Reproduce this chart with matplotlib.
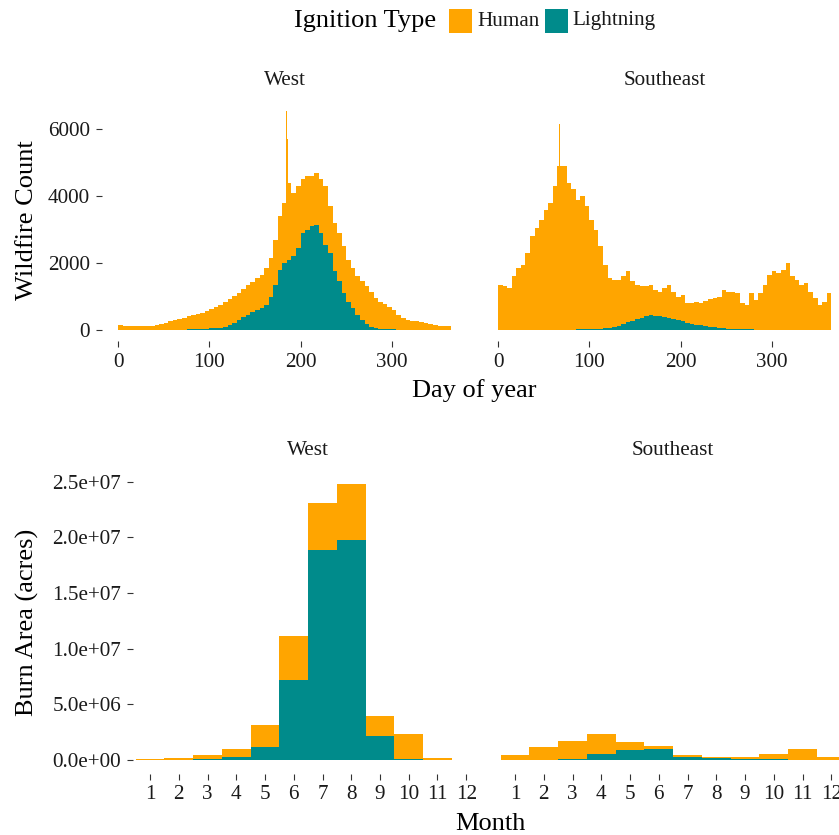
import numpy as np
import matplotlib
matplotlib.use('Agg')
import matplotlib.pyplot as plt
from matplotlib.patches import Rectangle

plt.rcParams['font.family'] = ['Liberation Serif', 'DejaVu Serif']

HUMAN_COLOR = '#FFA500'
LIGHTNING_COLOR = '#008B8B'
TEXT_COLOR = '#1a1a1a'

# ---------------- data: daily wildfire counts (read in 5-day bins) ----------------
bin_width = 5
west_all = [140, 130, 130, 120, 110, 110, 115, 125, 150, 180,
            220, 260, 290, 330, 370, 410, 440, 480, 520, 570,
            620, 690, 760, 840, 930, 1020, 1110, 1220, 1340, 1440,
            1540, 1640, 1850, 2150, 2700, 3400, 3800, 4400, 4100, 4300,
            4500, 4600, 4600, 4700, 4500, 4300, 3700, 3200, 2900, 2500,
            2100, 1850, 1600, 1450, 1300, 1150, 950, 850, 770, 680,
            590, 450, 350, 300, 280, 260, 240, 210, 170, 140,
            120, 120, 120]
west_lightning = [0, 0, 0, 0, 0, 0, 2, 2, 3, 4,
                  5, 6, 8, 10, 12, 15, 18, 22, 28, 35,
                  45, 55, 70, 90, 150, 220, 300, 380, 460, 540,
                  600, 650, 750, 1000, 1350, 1800, 2000, 2100, 2200, 2450,
                  2900, 3000, 3100, 3150, 2900, 2550, 2300, 1750, 1450, 1100,
                  850, 650, 450, 300, 180, 100, 60, 40, 30, 20,
                  15, 12, 10, 8, 6, 5, 4, 3, 3, 2,
                  2, 2, 2]
se_all = [1350, 1300, 1250, 1600, 1850, 1950, 2300, 2800, 3050, 3300,
          3600, 3800, 4300, 4900, 4900, 4400, 4200, 3900, 4000, 3700,
          3300, 3000, 2500, 1950, 1550, 1500, 1500, 1600, 1750, 1450,
          1350, 1300, 1300, 1350, 1200, 1150, 1250, 1350, 1150, 1000,
          1050, 800, 800, 830, 800, 880, 920, 950, 1000, 1200,
          1150, 1150, 1100, 800, 750, 1100, 900, 1100, 1350, 1650,
          1750, 1700, 1800, 2000, 1600, 1500, 1350, 1400, 1150, 950,
          750, 850, 1100]
se_lightning = [5, 5, 5, 5, 5, 5, 5, 6, 6, 6,
                7, 7, 8, 8, 9, 10, 12, 15, 18, 20,
                25, 30, 40, 50, 60, 90, 130, 170, 230, 280,
                330, 370, 420, 450, 430, 420, 400, 360, 330, 300,
                260, 220, 190, 160, 140, 120, 100, 80, 60, 50,
                40, 30, 25, 20, 18, 15, 12, 10, 10, 8,
                8, 6, 6, 5, 5, 5, 5, 5, 5, 5,
                5, 5, 5]
# single-day peaks (human-caused)
west_peak_days = [184, 185]
west_peak_counts = [6550, 5700]
se_peak_days = [67]
se_peak_counts = [6150]

# ---------------- data: monthly burn area (acres) ----------------
months = list(range(1, 13))
west_area_human = [0.10e6, 0.17e6, 0.37e6, 0.72e6, 2.03e6, 3.94e6,
                   4.23e6, 5.03e6, 1.79e6, 2.25e6, 0.18e6, 0.03e6]
west_area_lightning = [0.0, 0.01e6, 0.05e6, 0.24e6, 1.14e6, 7.20e6,
                       18.87e6, 19.77e6, 2.16e6, 0.06e6, 0.02e6, 0.0]
se_area_human = [0.40e6, 1.10e6, 1.68e6, 1.73e6, 0.71e6, 0.27e6,
                 0.18e6, 0.12e6, 0.17e6, 0.44e6, 0.99e6, 0.26e6]
se_area_lightning = [0.01e6, 0.03e6, 0.05e6, 0.57e6, 0.93e6, 0.99e6,
                     0.30e6, 0.18e6, 0.10e6, 0.06e6, 0.02e6, 0.01e6]

day_ticks = [0, 100, 200, 300]
count_ticks = [0, 2000, 4000, 6000]
area_ticks = [0, 5e6, 1e7, 1.5e7, 2e7, 2.5e7]

# ---------------- figure ----------------
W, H = 839, 835
fig = plt.figure(figsize=(W / 100, H / 100), dpi=100)
fig.patch.set_facecolor('white')


def px_axes(left, top, width, height):
    return fig.add_axes([left / W, 1 - (top + height) / H, width / W, height / H])


def style(ax, show_y=True):
    for s in ax.spines.values():
        s.set_visible(False)
    ax.tick_params(axis='both', length=4.3, width=0.8, color='#333333',
                   labelsize=15.2, labelcolor=TEXT_COLOR, pad=4)
    if not show_y:
        ax.tick_params(axis='y', left=False, labelleft=False)
    ax.set_facecolor('white')


def strip(ax, text):
    ax.text(0.5, 1 + 19.5 / ax.bbox.height, text, transform=ax.transAxes,
            ha='center', va='center', fontsize=15.2, color=TEXT_COLOR)


edges = np.arange(0, 365 + bin_width, bin_width)

top_specs = [("West", 101.6, west_all, west_lightning, west_peak_days, west_peak_counts, True),
             ("Southeast", 481.6, se_all, se_lightning, se_peak_days, se_peak_counts, False)]
for name, left, allc, light, pdays, pcounts, showy in top_specs:
    ax = px_axes(left, 100.2, 366.1, 240.8)
    allc = np.array(allc, float)
    light = np.array(light, float)
    human = allc - light
    ax.stairs(light + human, edges, baseline=0, fill=True, color=HUMAN_COLOR, linewidth=0)
    ax.bar(pdays, pcounts, width=1, align='edge', color=HUMAN_COLOR, linewidth=0)
    ax.stairs(light, edges, baseline=0, fill=True, color=LIGHTNING_COLOR, linewidth=0)
    ax.set_xlim(-18, 383)
    ax.set_ylim(-330, 6870)
    ax.set_xticks(day_ticks)
    ax.set_yticks(count_ticks)
    style(ax, showy)
    strip(ax, name)

bottom_specs = [("West", 132.75, west_area_human, west_area_lightning, True),
                ("Southeast", 497.75, se_area_human, se_area_lightning, False)]
for name, left, hum, light, showy in bottom_specs:
    ax = px_axes(left, 470.2, 350.75, 303.6)
    ax.bar(months, light, width=1.0, color=LIGHTNING_COLOR, linewidth=0)
    ax.bar(months, hum, bottom=light, width=1.0, color=HUMAN_COLOR, linewidth=0)
    ax.set_xlim(0.4, 12.6)
    ax.set_ylim(-1.24e6, 2.604e7)
    ax.set_xticks(months)
    ax.set_xticklabels([str(m) for m in months])
    ax.set_yticks(area_ticks)
    ax.set_yticklabels(['%.1e' % v for v in area_ticks])
    style(ax, showy)
    strip(ax, name)

# axis titles
fig.text(27 / W, 1 - 220.6 / H, 'Wildfire Count', rotation=90, ha='center', va='center',
         fontsize=19, color='black')
fig.text(474.6 / W, 1 - 397.3 / H, 'Day of year', ha='center', va='baseline',
         fontsize=19, color='black')
fig.text(27 / W, 1 - 622 / H, 'Burn Area (acres)', rotation=90, ha='center', va='center',
         fontsize=19, color='black')
fig.text(490.6 / W, 1 - 830 / H, 'Month', ha='center', va='baseline',
         fontsize=19, color='black')

# legend (manual, horizontal like ggplot's top legend)
fig.text(294 / W, 1 - 21 / H, 'Ignition Type', ha='left', va='center', fontsize=19, color='black')
fig.patches.append(Rectangle((449 / W, 1 - 32.7 / H), 23 / W, 23.4 / H,
                             transform=fig.transFigure, facecolor=HUMAN_COLOR,
                             edgecolor='none'))
fig.text(477 / W, 1 - 21 / H, 'Human', ha='left', va='center', fontsize=15.2, color=TEXT_COLOR)
fig.patches.append(Rectangle((544.5 / W, 1 - 32.7 / H), 23 / W, 23.4 / H,
                             transform=fig.transFigure, facecolor=LIGHTNING_COLOR,
                             edgecolor='none'))
fig.text(572 / W, 1 - 21 / H, 'Lightning', ha='left', va='center', fontsize=15.2, color=TEXT_COLOR)

fig.savefig('out.png', dpi=100, facecolor='white')
